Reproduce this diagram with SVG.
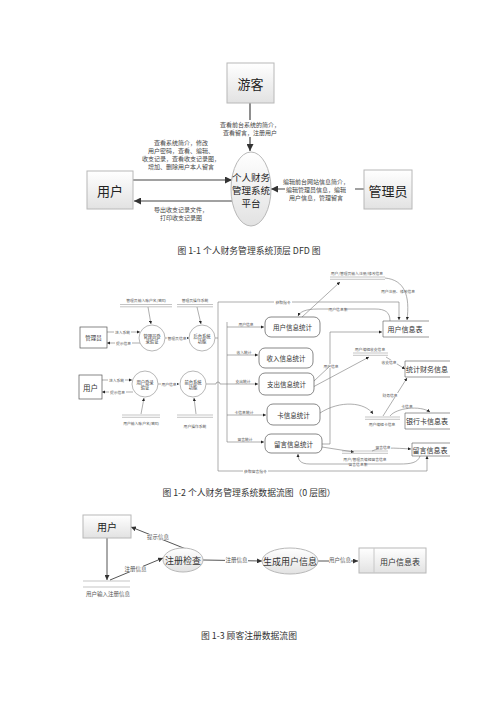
<svg xmlns="http://www.w3.org/2000/svg" width="500" height="707" viewBox="0 0 500 707">
<defs>
<linearGradient id="g" x1="0" y1="0" x2="0" y2="1"><stop offset="0" stop-color="#ffffff"/><stop offset="1" stop-color="#e2e2e2"/></linearGradient>
<marker id="ab" viewBox="0 0 10 10" refX="10" refY="5" markerWidth="7" markerHeight="7" markerUnits="userSpaceOnUse" orient="auto"><path d="M0,0 L10,5 L0,10 z" fill="#333"/></marker>
<marker id="as" viewBox="0 0 10 10" refX="10" refY="5" markerWidth="3.2" markerHeight="3.2" markerUnits="userSpaceOnUse" orient="auto"><path d="M0,0 L10,5 L0,10 z" fill="#222"/></marker>
<marker id="am" viewBox="0 0 10 10" refX="10" refY="5" markerWidth="5" markerHeight="5" markerUnits="userSpaceOnUse" orient="auto"><path d="M0,0 L10,5 L0,10 z" fill="#333"/></marker>
</defs>
<style>
text{font-family:"Noto Sans CJK SC","Noto Sans",sans-serif;fill:#333;text-anchor:middle;dominant-baseline:central}
.ent{fill:url(#g);stroke:#b8b8b8;stroke-width:1}
.t13{font-size:13px;fill:#222}
.t9{font-size:9.5px;fill:#222}
.lab{font-size:6px;fill:#444}
.cap{font-size:8.8px;fill:#333}
.big{stroke:#444;stroke-width:1.2;fill:none}
.bga{fill:#fff;stroke:none}
.m{stroke:#777;stroke-width:0.6;fill:none}
.mb{stroke:#555;stroke-width:0.7;fill:#fff}
.mt{font-size:6.5px;fill:#333}
.ms{font-size:3.8px;fill:#555}
.mc{font-size:4.3px;fill:#333}
.ds{stroke:#888;stroke-width:0.5}
.b2{stroke:#555;stroke-width:1;fill:none}
.bt{font-size:9px;fill:#333}
.bl{font-size:5.5px;fill:#555}
</style>

<!-- ============ Figure 1-1 ============ -->
<g id="connectors-1">
<line class="big" x1="250" y1="103" x2="250" y2="151" marker-end="url(#ab)"/>
<rect class="bga" x="212" y="120" width="78" height="17"/>
<text class="lab" x="250" y="124.5">查看前台系统的简介，</text>
<text class="lab" x="250" y="132.5">查看留言，注册用户</text>
<line class="big" x1="133" y1="180" x2="232" y2="180" marker-end="url(#ab)"/>
<text class="lab" x="181" y="142">查看系统简介，修改</text>
<text class="lab" x="181" y="150">用户密码，查看、编辑、</text>
<text class="lab" x="181" y="158">收支记录，查看收支记录图，</text>
<text class="lab" x="181" y="166">增加、删除用户本人留言</text>
<line class="big" x1="232" y1="201" x2="134" y2="201" marker-end="url(#ab)"/>
<text class="lab" x="181" y="209.5">导出收支记录文件，</text>
<text class="lab" x="181" y="217.5">打印收支记录图</text>
<line class="big" x1="364" y1="189" x2="271" y2="189" marker-end="url(#ab)"/>
<rect class="bga" x="285" y="176" width="70" height="26"/>
<text class="lab" x="316" y="181.5">编辑前台网站信息简介，</text>
<text class="lab" x="316" y="189.5">编辑管理员信息，编辑</text>
<text class="lab" x="316" y="197.5">用户信息，管理留言</text>
</g>
<g id="youke"><rect class="ent" x="227" y="63" width="47" height="40"/><text class="t13" x="250.5" y="83">游客</text></g>
<g id="platform"><ellipse class="ent" cx="251" cy="189" rx="20" ry="37"/>
<text class="t9" x="251" y="177">个人财务</text><text class="t9" x="251" y="190">管理系统</text><text class="t9" x="251" y="203">平台</text></g>
<g id="user1"><rect class="ent" x="87" y="171" width="46" height="38"/><text class="t13" x="110" y="190">用户</text></g>
<g id="admin1"><rect class="ent" x="364" y="170" width="48" height="39"/><text class="t13" x="388" y="190">管理员</text></g>
<text class="cap" x="249" y="250">图 1-1  个人财务管理系统顶层 DFD 图</text>

<!-- ============ Figure 1-2 ============ -->
<g id="connectors-2">
<line class="m" x1="148" y1="307" x2="151" y2="324" marker-end="url(#as)"/>
<line class="m" x1="197" y1="307" x2="201" y2="324" marker-end="url(#as)"/>
<line class="m" x1="107" y1="332" x2="140" y2="332" marker-end="url(#as)"/>
<rect class="bga" x="114" y="330" width="17" height="4"/><text class="ms" x="122.5" y="332">进入系统</text>
<line class="m" x1="141" y1="343" x2="107" y2="343" marker-end="url(#as)"/>
<rect class="bga" x="115" y="341" width="17" height="4"/><text class="ms" x="123.5" y="343">提示信息</text>
<line class="m" x1="165" y1="338" x2="189" y2="338" marker-end="url(#as)"/>
<rect class="bga" x="167" y="336" width="20" height="4"/><text class="ms" x="177" y="338">管理员信息</text>
<line class="m" x1="215" y1="338" x2="218" y2="338"/>
<path class="m" d="M218,302 L218,471 L427,471 L427,456" marker-end="url(#as)"/>
<path class="m" d="M218,302 L399,302 L399,320" marker-end="url(#as)"/>
<rect class="bga" x="274" y="300" width="18" height="4"/><text class="ms" x="283" y="302">获取指令</text>
<rect class="bga" x="243" y="469" width="25" height="4"/><text class="ms" x="255.5" y="471">获取留言指令</text>
<line class="m" x1="227" y1="322" x2="227" y2="442"/>
<line class="m" x1="227" y1="327" x2="264" y2="327" marker-end="url(#as)"/>
<text class="ms" x="246" y="324">用户信息</text>
<line class="m" x1="227" y1="355" x2="258" y2="355" marker-end="url(#as)"/>
<text class="ms" x="244" y="352">收入统计</text>
<line class="m" x1="227" y1="384" x2="258" y2="384" marker-end="url(#as)"/>
<text class="ms" x="243" y="381">支出统计</text>
<line class="m" x1="227" y1="415" x2="266" y2="415" marker-end="url(#as)"/>
<text class="ms" x="244" y="412">卡信息统计</text>
<line class="m" x1="227" y1="442" x2="264" y2="442" marker-end="url(#as)"/>
<text class="ms" x="245" y="439">留言统计</text>
<line class="m" x1="102" y1="380" x2="132" y2="380" marker-end="url(#as)"/>
<rect class="bga" x="108" y="378" width="17" height="4"/><text class="ms" x="116.5" y="380">进入系统</text>
<line class="m" x1="133" y1="392" x2="102" y2="392" marker-end="url(#as)"/>
<rect class="bga" x="109" y="390" width="17" height="4"/><text class="ms" x="117.5" y="392">提示信息</text>
<line class="m" x1="158" y1="384" x2="179" y2="384" marker-end="url(#as)"/>
<rect class="bga" x="161" y="382" width="16" height="4"/><text class="ms" x="169" y="384">用户信息</text>
<path class="m" d="M206,384 L216,384 A2,2 0 0 1 220,384 L227,384"/>
<line class="m" x1="141" y1="414" x2="144" y2="398" marker-end="url(#as)"/>
<line class="m" x1="196" y1="414" x2="194" y2="398" marker-end="url(#as)"/>
<line class="m" x1="302" y1="317" x2="340" y2="282" marker-end="url(#as)"/>
<path class="m" d="M385,278 C405,280 410,296 407,320" marker-end="url(#as)"/>
<text class="ms" x="398" y="291">用户注册、修改信息</text>
<path class="m" d="M390,321 C390,312 385,309 375,309 L318,309 C305,309 300,312 298,316" marker-end="url(#as)"/>
<rect class="bga" x="329" y="307" width="18" height="4"/><text class="ms" x="338" y="309">用户信息集</text>
<path class="m" d="M322,444 L330,444 L330,332 L382,332" marker-end="url(#as)"/>
<rect class="bga" x="323" y="364" width="16" height="4"/><text class="ms" x="331" y="366">用户信息</text>
<line class="m" x1="314" y1="381" x2="330" y2="366"/>
<line class="m" x1="313" y1="387" x2="369" y2="357" marker-end="url(#as)"/>
<line class="m" x1="386" y1="357" x2="405" y2="369" marker-end="url(#as)"/>
<rect class="bga" x="381" y="360" width="16" height="4"/><text class="ms" x="389" y="362">收支信息</text>
<line class="m" x1="383" y1="416" x2="407" y2="378" marker-end="url(#as)"/>
<rect class="bga" x="382" y="393" width="16" height="4"/><text class="ms" x="390" y="395">财务信息</text>
<path class="m" d="M390,416 C396,408 420,405 430,412" marker-end="url(#as)"/>
<text class="ms" x="407" y="406">卡信息</text>
<path class="m" d="M320,413 C340,400 365,402 373,414" marker-end="url(#as)"/>
<line class="m" x1="322" y1="447" x2="354" y2="452" marker-end="url(#as)"/>
<path class="m" d="M372,451 C380,447 395,448 411,449" marker-end="url(#as)"/>
<rect class="bga" x="375" y="445" width="16" height="4"/><text class="ms" x="383" y="447">留言信息</text>
<path class="m" d="M420,456 C418,463 410,464 400,464 L310,464 C300,464 298,460 298,454" marker-end="url(#as)"/>
<rect class="bga" x="349" y="462" width="18" height="4"/><text class="ms" x="358" y="464">留言信息集</text>
</g>
<g id="ds-admin-input"><line class="ds" x1="120" y1="304.5" x2="172" y2="304.5"/><line class="ds" x1="120" y1="306.8" x2="172" y2="306.8"/><text class="ms" x="146" y="300.5">管理员输入账户名/密码</text></g>
<g id="ds-admin-os"><line class="ds" x1="177" y1="304.5" x2="213" y2="304.5"/><line class="ds" x1="177" y1="306.8" x2="213" y2="306.8"/><text class="ms" x="195" y="300.5">管理员操作系统</text></g>
<g id="ds-user-input"><line class="ds" x1="122" y1="415" x2="160" y2="415"/><line class="ds" x1="122" y1="417.3" x2="160" y2="417.3"/><text class="ms" x="141" y="423.5">用户输入账户名/密码</text></g>
<g id="ds-user-os"><line class="ds" x1="177" y1="415" x2="213" y2="415"/><line class="ds" x1="177" y1="417.3" x2="213" y2="417.3"/><text class="ms" x="195" y="426.5">用户操作系统</text></g>
<g id="ds-reg"><line class="ds" x1="330" y1="277" x2="385" y2="277"/><line class="ds" x1="330" y1="279.3" x2="385" y2="279.3"/><text class="ms" x="357" y="273.5">用户/管理员输入注册/修改信息</text></g>
<g id="ds-inout"><line class="ds" x1="353" y1="353" x2="388" y2="353"/><line class="ds" x1="353" y1="355.3" x2="388" y2="355.3"/><text class="ms" x="370" y="349">用户编辑收支信息</text></g>
<g id="ds-card"><line class="ds" x1="365" y1="417" x2="400" y2="417"/><line class="ds" x1="365" y1="419.3" x2="400" y2="419.3"/><text class="ms" x="382" y="424.5">用户编辑卡信息</text></g>
<g id="ds-msg"><line class="ds" x1="342" y1="451" x2="388" y2="451"/><line class="ds" x1="342" y1="453.3" x2="388" y2="453.3"/><text class="ms" x="365" y="459">用户/管理员编辑留言信息</text></g>
<g id="admin2"><rect class="mb" x="80" y="327" width="27" height="21"/><text class="mc" style="font-size:5.5px" x="93.5" y="337.5">管理员</text></g>
<g id="admin-login"><circle class="mb" cx="152" cy="338" r="13" style="stroke:#999"/><text class="mc" x="152" y="335.5">管理员登</text><text class="mc" x="152" y="341">录验证</text></g>
<g id="backend"><circle class="mb" cx="202" cy="338" r="13" style="stroke:#999"/><text class="mc" x="202" y="335.5">后台系统</text><text class="mc" x="202" y="341">功能</text></g>
<g id="user2"><rect class="mb" x="79" y="375" width="23" height="24"/><text class="mc" style="font-size:7.5px" x="90.5" y="387">用户</text></g>
<g id="user-login"><circle class="mb" cx="145" cy="384" r="13" style="stroke:#999"/><text class="mc" x="145" y="381.5">用户登录</text><text class="mc" x="145" y="387">验证</text></g>
<g id="frontend"><circle class="mb" cx="193" cy="384" r="13" style="stroke:#999"/><text class="mc" x="193" y="381.5">前台系统</text><text class="mc" x="193" y="387">功能</text></g>
<g id="p-user"><rect class="mb" x="265" y="317" width="55" height="20" rx="6"/><text class="mt" x="292.5" y="327">用户信息统计</text></g>
<g id="p-income"><rect class="mb" x="259" y="348" width="54" height="20" rx="6"/><text class="mt" x="286" y="358">收入信息统计</text></g>
<g id="p-expense"><rect class="mb" x="259" y="373" width="55" height="22" rx="6"/><text class="mt" x="286.5" y="384">支出信息统计</text></g>
<g id="p-card"><rect class="mb" x="267" y="404" width="53" height="21" rx="6"/><text class="mt" x="293.5" y="414.5">卡信息统计</text></g>
<g id="p-msg"><rect class="mb" x="265" y="434" width="57" height="19" rx="6"/><text class="mt" x="293.5" y="443.5">留言信息统计</text></g>
<g id="t-user"><path class="m" style="stroke:#555" d="M429,321 L383,321 L383,337 L429,337"/><text class="mt" style="font-size:7px" x="405" y="329">用户信息表</text></g>
<g id="t-stat"><path class="m" style="stroke:#555" d="M450,361 L405,361 L405,377 L450,377"/><text class="mt" style="font-size:7px" x="427" y="369">统计财务信息</text></g>
<g id="t-card"><path class="m" style="stroke:#555" d="M450,413 L405,413 L405,429 L450,429"/><text class="mt" style="font-size:7px" x="427" y="421">银行卡信息表</text></g>
<g id="t-msg"><path class="m" style="stroke:#555" d="M450,443 L412,443 L412,456 L450,456"/><text class="mt" style="font-size:7px" x="430" y="449.5">留言信息表</text></g>
<text class="cap" x="249" y="492">图 1-2  个人财务管理系统数据流图（0 层图）</text>

<!-- ============ Figure 1-3 ============ -->
<g id="connectors-3">
<line class="b2" x1="107" y1="538" x2="107" y2="580" marker-end="url(#am)"/>
<line class="b2" x1="110" y1="580" x2="163" y2="558" marker-end="url(#am)"/>
<rect class="bga" x="125" y="566" width="21" height="6"/><text class="bl" x="135.5" y="569">注册信息</text>
<line class="b2" x1="186" y1="549" x2="131" y2="527" marker-end="url(#am)"/>
<rect class="bga" x="147" y="534" width="22" height="6"/><text class="bl" x="158" y="537">提示信息</text>
<line class="b2" x1="203" y1="560" x2="262" y2="561" marker-end="url(#am)"/>
<rect class="bga" x="225" y="557" width="23" height="6"/><text class="bl" x="236.5" y="560">注册信息</text>
<line class="b2" x1="318" y1="561" x2="358" y2="561" marker-end="url(#am)"/>
<rect class="bga" x="329" y="557" width="22" height="6"/><text class="bl" x="340" y="560">用户信息</text>
</g>
<g id="user3"><rect class="ent" x="83" y="515" width="48" height="23"/><text class="t9" style="font-size:10px" x="107" y="526.5">用户</text></g>
<g id="ds-reg-input"><line class="ds" x1="83" y1="581" x2="130" y2="581"/><line class="ds" x1="83" y1="587" x2="130" y2="587"/><text class="bl" x="108" y="594">用户输入注册信息</text></g>
<g id="check"><ellipse class="ent" cx="183" cy="560" rx="20" ry="12"/><text class="bt" x="183" y="560">注册检查</text></g>
<g id="gen"><ellipse class="ent" cx="290" cy="561" rx="28" ry="13"/><text class="bt" x="290" y="561">生成用户信息</text></g>
<g id="usertable"><rect class="ent" x="359" y="548" width="67" height="25"/><line x1="374" y1="548" x2="374" y2="573" stroke="#c8c8c8" stroke-width="1"/><text class="bt" style="font-size:8px" x="400" y="561">用户信息表</text></g>
<text class="cap" x="249" y="635">图 1-3  顾客注册数据流图</text>
</svg>
